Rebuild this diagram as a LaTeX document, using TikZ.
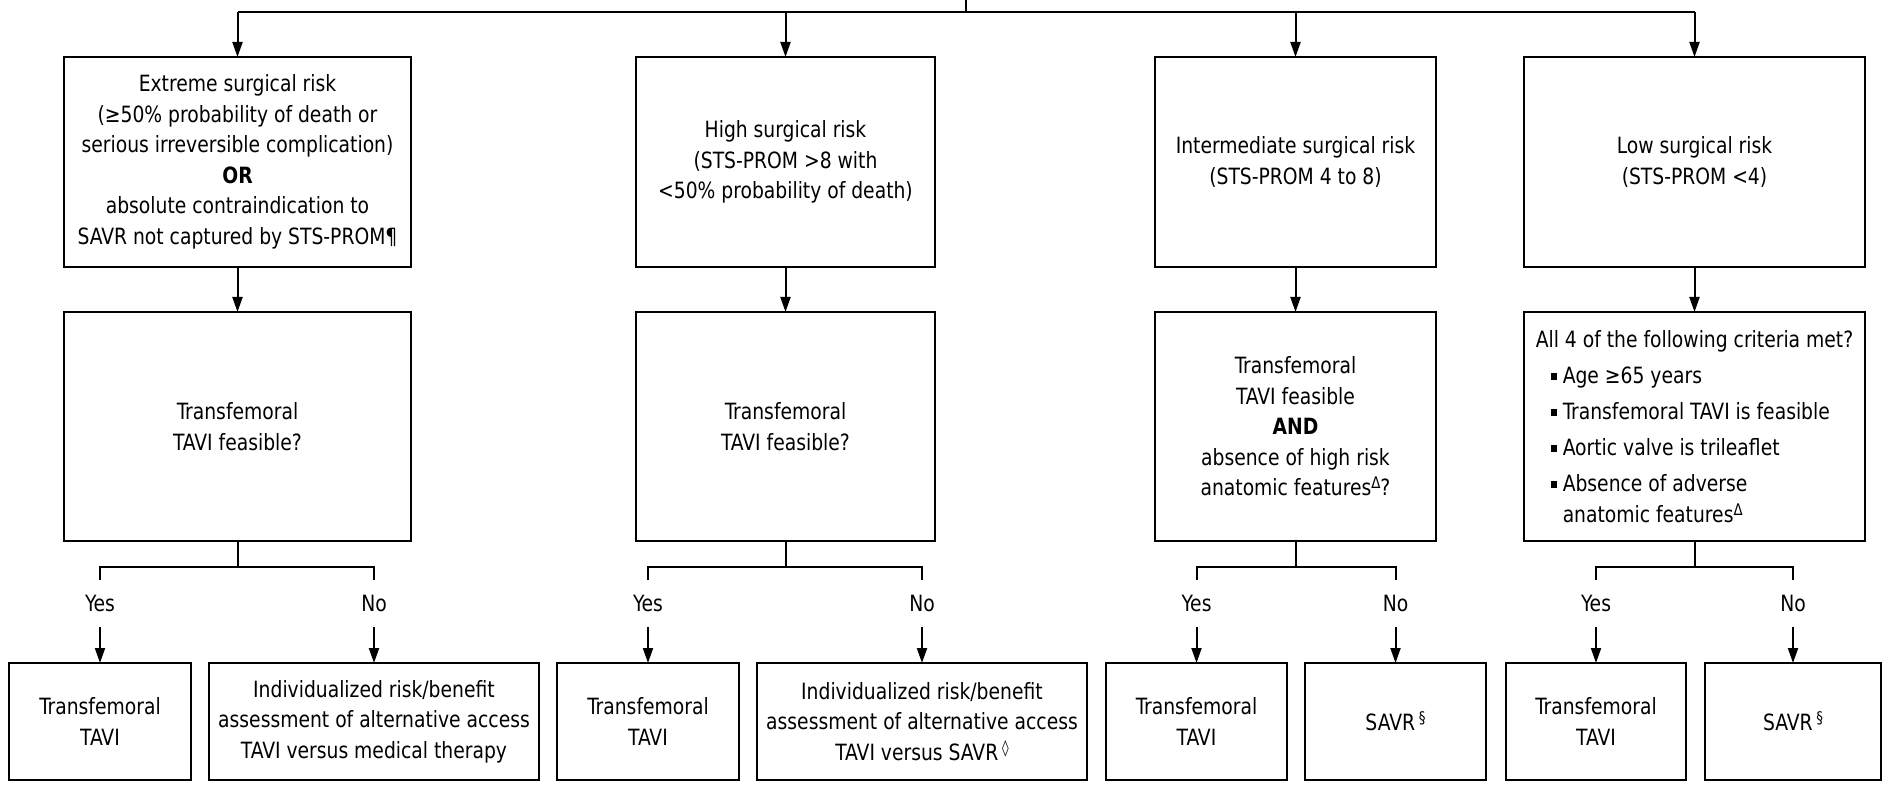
\documentclass[tikz,border=0pt]{standalone}
\usepackage{fontspec}
\setmainfont{DejaVu Sans Condensed}[FakeStretch=0.93]
\usetikzlibrary{arrows.meta,calc}
\newcommand{\bul}{\makebox[12pt][l]{\rule[4pt]{6pt}{7pt}}}
\newcommand{\sups}[1]{\raisebox{7pt}{\fontsize{16}{16}\selectfont #1}}
\begin{document}
\begin{tikzpicture}[x=1pt,y=-1pt,
  font=\fontsize{22.4}{30.5}\selectfont,
  box/.style={draw, line width=2pt, align=center, inner sep=0pt, outer sep=0pt},
  top/.style={box, minimum height=210pt},
  mid/.style={box, minimum height=229pt},
  bot/.style={box, minimum height=117pt},
  arr/.style={line width=2pt, -{Triangle[length=15pt,width=10pt]}},
  con/.style={line width=2pt},
  lab/.style={inner sep=0pt}]
\useasboundingbox (0,0) rectangle (1883,786);
% row 1
\node[top, minimum width=347pt] (r1a) at (237.5,162) {Extreme surgical risk\\(≥50\% probability of death or\\serious irreversible complication)\\\textbf{OR}\\absolute contraindication to\\SAVR not captured by STS-PROM¶};
\node[top, minimum width=299pt] (r1b) at (785.5,162) {High surgical risk\\(STS-PROM >8 with\\<50\% probability of death)};
\node[top, minimum width=281pt] (r1c) at (1295.5,162) {Intermediate surgical risk\\(STS-PROM 4 to 8)};
\node[top, minimum width=341pt] (r1d) at (1694.5,162) {Low surgical risk\\(STS-PROM <4)};
% row 2
\node[mid, minimum width=347pt] (r2a) at (237.5,426.5) {Transfemoral\\TAVI feasible?};
\node[mid, minimum width=299pt] (r2b) at (785.5,426.5) {Transfemoral\\TAVI feasible?};
\node[mid, minimum width=281pt] (r2c) at (1295.5,426.5) {Transfemoral\\TAVI feasible\\\textbf{AND}\\absence of high risk\\anatomic features\sups{Δ}?};
\node[mid, minimum width=341pt, align=left] (r2d) at (1694.5,426.5) {All 4 of the following criteria met?\\[5.5pt]
\hspace*{15pt}\bul Age ≥65 years\\[5.5pt]
\hspace*{15pt}\bul Transfemoral TAVI is feasible\\[5.5pt]
\hspace*{15pt}\bul Aortic valve is trileaflet\\[5.5pt]
\hspace*{15pt}\bul Absence of adverse\\
\hspace*{27pt}anatomic features\sups{Δ}};
% row 3
\node[bot, minimum width=182pt] (bA) at (100,721.5) {Transfemoral\\TAVI};
\node[bot, minimum width=330pt] (bB) at (374,721.5) {Individualized risk/benefit\\assessment of alternative access\\TAVI versus medical therapy};
\node[bot, minimum width=182pt] (bC) at (648,721.5) {Transfemoral\\TAVI};
\node[bot, minimum width=330pt] (bD) at (922,721.5) {Individualized risk/benefit\\assessment of alternative access\\TAVI versus SAVR\,\sups{◊}};
\node[bot, minimum width=181pt] (bE) at (1196.5,721.5) {Transfemoral\\TAVI};
\node[bot, minimum width=181pt] (bF) at (1395.5,721.5) {SAVR\,\sups{§}};
\node[bot, minimum width=180pt] (bG) at (1596,721.5) {Transfemoral\\TAVI};
\node[bot, minimum width=176pt] (bH) at (1793,721.5) {SAVR\,\sups{§}};
% labels
\node[lab] (ya) at (100,603) {Yes};
\node[lab] (na) at (374,603) {No};
\node[lab] (yb) at (648,603) {Yes};
\node[lab] (nb) at (922,603) {No};
\node[lab] (yc) at (1196.5,603) {Yes};
\node[lab] (nc) at (1395.5,603) {No};
\node[lab] (yd) at (1596,603) {Yes};
\node[lab] (nd) at (1793,603) {No};
% top connectors
\coordinate (topc) at (966,0);
\coordinate (hub) at (966,12);
\draw[con] (topc) -- (hub);
\draw[con] (r1a.north |- hub) -- (r1d.north |- hub);
\foreach \n in {a,b,c,d}{
  \draw[arr] (r1\n.north |- hub) -- (r1\n.north);
  \draw[arr] (r1\n) -- (r2\n);
}
% splits
\foreach \n/\Y/\N/\P/\Q in {a/ya/na/bA/bB, b/yb/nb/bC/bD, c/yc/nc/bE/bF, d/yd/nd/bG/bH}{
  \coordinate (j\n) at ($(r2\n.south)+(0,26)$);
  \draw[con] (r2\n.south) -- (j\n);
  \draw[con] ($(\Y.center)+(0,-23)$) |- (j\n) -| ($(\N.center)+(0,-23)$);
  \draw[arr] ($(\Y.center)+(0,24)$) -- (\P.north);
  \draw[arr] ($(\N.center)+(0,24)$) -- (\Q.north);
}
\end{tikzpicture}
\end{document}
